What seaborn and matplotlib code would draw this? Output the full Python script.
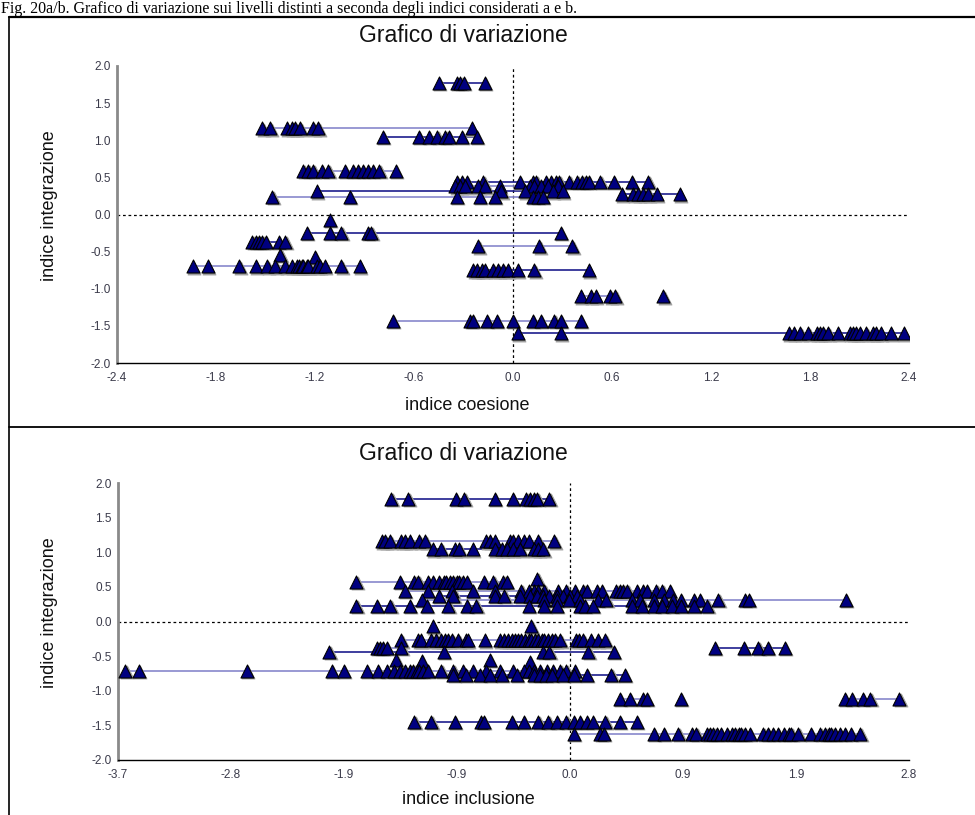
import numpy as np
import pandas as pd
import matplotlib
matplotlib.use("Agg")
import matplotlib.pyplot as plt
import seaborn as sns
from matplotlib.transforms import offset_copy

sns.set_style("white")
plt.rcParams["font.family"] = ["Liberation Sans", "DejaVu Sans"]

# ---------------- data ----------------
caption = "Fig. 20a/b. Grafico di variazione sui livelli distinti a seconda degli indici considerati a e b."
title = "Grafico di variazione"
y_label = "indice integrazione"
top_x_label = "indice coesione"
bottom_x_label = "indice inclusione"

top_x_ticks = [-2.4, -1.8, -1.2, -0.6, 0.0, 0.6, 1.2, 1.8, 2.4]
top_x_ticklabels = ["-2.4", "-1.8", "-1.2", "-0.6", "0.0", "0.6", "1.2", "1.8", "2.4"]
bottom_x_ticks = [-3.72, -2.79, -1.86, -0.93, 0.0, 0.93, 1.86, 2.79]
bottom_x_ticklabels = ["-3.7", "-2.8", "-1.9", "-0.9", "0.0", "0.9", "1.9", "2.8"]
y_ticks = [-2.0, -1.5, -1.0, -0.5, 0.0, 0.5, 1.0, 1.5, 2.0]
y_ticklabels = ["-2.0", "-1.5", "-1.0", "-0.5", "0.0", "0.5", "1.0", "1.5", "2.0"]

# top panel (indice coesione): level of integration index per group, and its coesione values
top_levels = [1.77, 1.16, 1.05, 0.59, 0.44, 0.38, 0.31, 0.24, 0.27, -0.07, -0.25,
              -0.43, -0.37, -0.545, -0.57, -0.70, -0.75, -1.10, -1.10, -1.43, -1.60]
top_values = [
    [-0.45, -0.34, -0.32, -0.30, -0.17],
    [-1.52, -1.47, -1.37, -1.34, -1.32, -1.29, -1.21, -1.18, -0.25],
    [-0.79, -0.57, -0.51, -0.46, -0.41, -0.39, -0.31, -0.22],
    [-1.27, -1.24, -1.21, -1.16, -1.12, -1.02, -0.97, -0.94, -0.91, -0.88, -0.85, -0.81, -0.71],
    [-0.34, -0.31, -0.28, -0.18, 0.04, 0.12, 0.14, 0.20, 0.23, 0.26, 0.28, 0.34, 0.39, 0.42,
     0.44, 0.46, 0.53, 0.61, 0.72, 0.82],
    [-0.35, -0.32, -0.29, -0.21, -0.17, -0.08, 0.10, 0.13, 0.17, 0.21, 0.27],
    [-1.19, -0.07, 0.07, 0.24, 0.30],
    [-1.46, -0.99, -0.34, -0.20, -0.11, 0.12, 0.15, 0.18],
    [0.66, 0.73, 0.76, 0.79, 0.82, 0.87, 1.01],
    [-1.11],
    [-1.25, -1.11, -1.04, -0.88, -0.86, 0.29],
    [-0.21, 0.16, 0.36],
    [-1.58, -1.56, -1.54, -1.52, -1.50, -1.42, -1.38],
    [-1.41],
    [-1.20],
    [-1.94, -1.85, -1.66, -1.56, -1.49, -1.44, -1.38, -1.34, -1.31, -1.30, -1.28, -1.27, -1.25,
     -1.24, -1.19, -1.17, -1.14, -1.04, -0.93],
    [-0.24, -0.22, -0.19, -0.17, -0.12, -0.09, -0.06, -0.03, 0.03, 0.13, 0.46],
    [0.41, 0.47, 0.50, 0.59, 0.62],
    [0.91],
    [-0.73, -0.26, -0.245, -0.16, -0.10, 0.0, 0.12, 0.17, 0.25, 0.29, 0.41],
    [0.03, 0.29, 1.67, 1.70, 1.74, 1.79, 1.84, 1.86, 1.88, 1.91, 1.97, 2.04, 2.06, 2.08, 2.10,
     2.14, 2.18, 2.20, 2.23, 2.29, 2.37],
]

# bottom panel (indice inclusione)
bottom_levels = [1.77, 1.16, 1.04, 0.57, 0.62, 0.44, 0.37, 0.31, 0.23, -0.07, -0.07, -0.27,
                 -0.44, -0.38, -0.38, -0.56, -0.57, -0.55, -0.58, -0.71, -0.77, -1.12, -1.12,
                 -1.12, -1.45, -1.62]
bottom_values = [
    [-1.47, -1.33, -0.94, -0.87, -0.62, -0.47, -0.36, -0.33, -0.30, -0.27, -0.17],
    [-1.55, -1.52, -1.48, -1.39, -1.36, -1.32, -1.24, -1.19, -0.69, -0.66, -0.62, -0.49, -0.47,
     -0.43, -0.38, -0.34, -0.26, -0.13],
    [-1.13, -1.06, -0.95, -0.91, -0.80, -0.62, -0.56, -0.52, -0.47, -0.41, -0.30, -0.26, -0.22],
    [-1.76, -1.40, -1.28, -1.25, -1.17, -1.13, -1.08, -1.04, -1.02, -0.99, -0.96, -0.93, -0.91,
     -0.88, -0.85, -0.71, -0.63, -0.55, -0.52],
    [-0.27],
    [-1.36, -1.17, -0.97, -0.80, -0.62, -0.40, -0.34, -0.30, -0.26, -0.21, -0.10, -0.03, 0.04,
     0.11, 0.14, 0.22, 0.26, 0.38, 0.41, 0.44, 0.47, 0.55, 0.60, 0.63, 0.71, 0.76, 0.82],
    [-1.08, -0.96, -0.62, -0.54, -0.41, -0.33, -0.27, -0.22, -0.17, -0.11, -0.06, 0.0, 0.06],
    [-1.22, -0.21, -0.11, -0.01, 0.08, 0.23, 0.30, 0.51, 0.58, 0.69, 0.77, 0.85, 0.91, 1.02,
     1.07, 1.22, 1.44, 1.47, 2.27],
    [-1.76, -1.59, -1.48, -1.32, -1.18, -1.00, -0.85, -0.77, -0.34, -0.21, -0.11, 0.08, 0.12,
     0.19, 0.51, 0.59, 0.69, 0.76, 0.84, 0.91, 1.02, 1.13],
    [-1.13],
    [-0.32],
    [-1.39, -1.25, -1.23, -1.14, -1.10, -1.06, -1.03, -1.00, -0.97, -0.92, -0.86, -0.84, -0.70,
     -0.58, -0.54, -0.51, -0.48, -0.45, -0.43, -0.40, -0.37, -0.34, -0.32, -0.29, -0.26, -0.23,
     -0.21, -0.18, -0.15, -0.12, -0.08, 0.05, 0.07, 0.11, 0.17, 0.23, 0.29],
    [-1.98, -1.04, -0.22, -0.17, 0.15, 0.36],
    [-1.59, -1.56, -1.54, -1.51, -1.39],
    [1.19, 1.43, 1.55, 1.63, 1.77],
    [-1.43],
    [-1.22],
    [-0.66],
    [-0.33],
    [-3.66, -3.55, -2.66, -1.96, -1.86, -1.67, -1.58, -1.51, -1.45, -1.40, -1.36, -1.32, -1.29,
     -1.26, -1.24, -1.21, -1.17, -1.06, -0.96, -0.88, -0.80, -0.69, -0.58, -0.47, -0.38, -0.34,
     -0.30, -0.25, -0.19, -0.14, -0.08, -0.03, 0.04],
    [-0.96, -0.86, -0.74, -0.66, -0.56, -0.44, -0.30, -0.25, -0.20, -0.15, -0.06, 0.03, 0.14,
     0.34, 0.45],
    [0.41, 0.49, 0.60, 0.63],
    [0.91],
    [2.26, 2.32, 2.41, 2.47, 2.71],
    [-1.28, -1.14, -0.95, -0.73, -0.71, -0.48, -0.38, -0.26, -0.18, -0.11, -0.03, 0.03, 0.08,
     0.14, 0.19, 0.29, 0.41, 0.55],
    [0.03, 0.25, 0.28, 0.69, 0.77, 0.89, 1.00, 1.04, 1.13, 1.15, 1.18, 1.21, 1.24, 1.29, 1.33,
     1.36, 1.39, 1.41, 1.44, 1.48, 1.59, 1.63, 1.67, 1.71, 1.76, 1.80, 1.82, 1.88, 1.98, 2.06,
     2.10, 2.13, 2.15, 2.18, 2.22, 2.26, 2.31, 2.39],
]


def make_frame(levels, values):
    rows = []
    for g, (lv, xs) in enumerate(zip(levels, values)):
        for v in xs:
            rows.append({"grp": g, "x": v, "y": lv})
    return pd.DataFrame(rows)


W, H = 975, 815
fig = plt.figure(figsize=(W / 100, H / 100), dpi=100)


def fx(px):
    return px / W


def fy(py):
    return 1 - py / H


LINE_DARK = "#1e1e8e"
LINE_LIGHT = "#8787cc"
MARK = "#000080"
TICKFONT = ["Liberation Sans Narrow", "Liberation Sans", "DejaVu Sans"]


def draw_panel(ax, df, xlim, xticks, xticklabels):
    pal = {g: (LINE_DARK if g % 2 == 0 else LINE_LIGHT) for g in df["grp"].unique()}
    sns.lineplot(data=df, x="x", y="y", hue="grp", palette=pal, estimator=None,
                 sort=True, legend=False, linewidth=1.2, ax=ax, zorder=2)
    shadow = offset_copy(ax.transData, fig=fig, x=1.4, y=-1.4, units="dots")
    sns.scatterplot(data=df, x="x", y="y", marker="^", s=88, color="#a0a0a0",
                    edgecolor="#a0a0a0", linewidth=0.6, ax=ax, zorder=3,
                    transform=shadow, legend=False)
    sns.scatterplot(data=df, x="x", y="y", marker="^", s=88, color=MARK,
                    edgecolor="black", linewidth=0.8, ax=ax, zorder=4, legend=False)
    ax.axhline(0, color="black", lw=0.9, ls=(0, (2.2, 2.2)), zorder=1)
    ax.axvline(0, color="black", lw=0.9, ls=(0, (2.2, 2.2)), zorder=1)
    ax.set_xlim(*xlim)
    ax.set_ylim(-2.0, 2.0)
    ax.set_xticks(xticks)
    ax.set_xticklabels(xticklabels)
    ax.set_yticks(y_ticks)
    ax.set_yticklabels(y_ticklabels)
    ax.set_xlabel("")
    ax.set_ylabel("")
    for s in ("top", "right"):
        ax.spines[s].set_visible(False)
    ax.spines["left"].set_color("#8a8a8a")
    ax.spines["left"].set_linewidth(2.0)
    ax.spines["bottom"].set_color("black")
    ax.spines["bottom"].set_linewidth(1.0)
    ax.tick_params(axis="both", direction="inout", length=9, width=1.0, color="black",
                   labelsize=8.5, labelcolor="#3a3a4a")
    ax.tick_params(axis="x", pad=2)
    ax.tick_params(axis="y", pad=0)
    for lab in ax.get_xticklabels() + ax.get_yticklabels():
        lab.set_family(TICKFONT)


# top panel
ax1 = fig.add_axes([fx(117), fy(363), fx(909) - fx(117), fy(66) - fy(363)])
draw_panel(ax1, make_frame(top_levels, top_values), (-2.4, 2.4), top_x_ticks,
           top_x_ticklabels)

# bottom panel
ax2 = fig.add_axes([fx(118), fy(760), fx(909) - fx(118), fy(483) - fy(760)])
draw_panel(ax2, make_frame(bottom_levels, bottom_values), (-3.72, 2.79), bottom_x_ticks,
           bottom_x_ticklabels)

# titles and labels as figure text
for ty in (35, 453):
    fig.text(fx(463), fy(ty), title, ha="center", va="center", fontsize=16.5, color="#111111")
fig.text(fx(467), fy(405), top_x_label, ha="center", va="center", fontsize=13, color="#111111")
fig.text(fx(468), fy(800), bottom_x_label, ha="center", va="center", fontsize=13,
         color="#111111")
for ly in (206, 613):
    fig.text(fx(50), fy(ly), y_label, ha="center", va="center", rotation=90, fontsize=13,
             color="#111111")

# caption at the top edge of the page
fig.text(fx(1), fy(1), caption, ha="left", va="top", fontsize=11.5,
         family=["Liberation Serif", "DejaVu Serif"], color="black")

# frame lines
fig.add_artist(plt.Line2D([fx(9), 1.0], [fy(17), fy(17)], color="black", lw=1.6))
fig.add_artist(plt.Line2D([fx(9), 1.0], [fy(427), fy(427)], color="black", lw=1.3))
fig.add_artist(plt.Line2D([fx(9), fx(9)], [fy(17), 0.0], color="black", lw=1.2))

fig.savefig("out.png", dpi=100)
